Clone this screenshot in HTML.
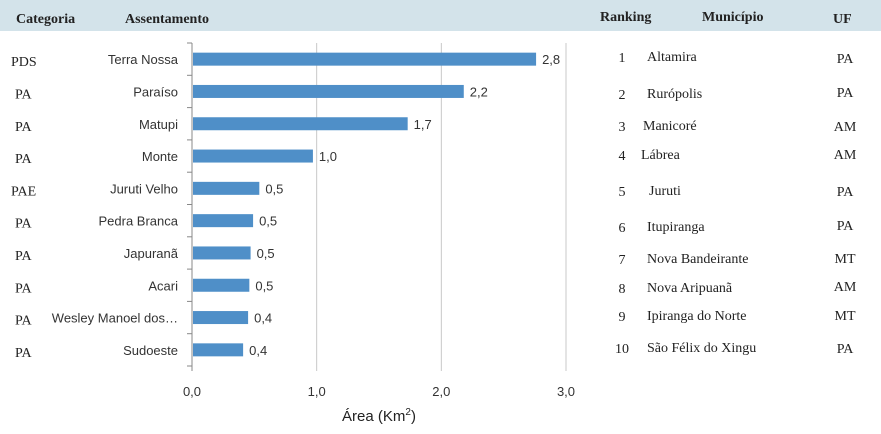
<!DOCTYPE html>
<html><head><meta charset="utf-8"><style>
body{margin:0;width:881px;height:434px;background:#fff;overflow:hidden;position:relative;font-family:"Liberation Sans",sans-serif}
.hdr{position:absolute;top:0;left:0;width:881px;height:31px;background:#d3e3ea}
.s{font-family:"Liberation Serif",serif;position:absolute;color:#222}
.b{font-weight:bold;font-size:14px}
</style></head><body>
<div class="hdr"></div>
<div class="s b" style="left:16px;top:12px">Categoria</div>
<div class="s b" style="left:125px;top:12px">Assentamento</div>
<div class="s b" style="left:600px;top:10px">Ranking</div>
<div class="s b" style="left:702px;top:10px">Município</div>
<div class="s b" style="left:833px;top:12px">UF</div>
<svg id="chart" width="881" height="434" style="position:absolute;left:0;top:0"></svg>
<script>
const categories=["Terra Nossa","Paraíso","Matupi","Monte","Juruti Velho","Pedra Branca","Japuranã","Acari","Wesley Manoel dos…","Sudoeste"];
const cats=["PDS","PA","PA","PA","PAE","PA","PA","PA","PA","PA"];
const values=[2.76,2.18,1.73,0.97,0.54,0.49,0.47,0.46,0.45,0.41];
const valueLabels=["2,8","2,2","1,7","1,0","0,5","0,5","0,5","0,5","0,4","0,4"];
const ticks=[0,1,2,3];
const tickLabels=["0,0","1,0","2,0","3,0"];
const rankNames=["Altamira","Rurópolis","Manicoré","Lábrea","Juruti","Itupiranga","Nova Bandeirante","Nova Aripuanã","Ipiranga do Norte","São Félix do Xingu"];
const rankUF=["PA","PA","AM","AM","PA","PA","MT","AM","MT","PA"];
const rowY=[57,94,126,155,191,227,259,288,316,348];
const nameX=[647,647,643,641,649,647,647,647,647,647];
const ufY=[58,92,126,154,191,225,258,286,315,348];

const NS="http://www.w3.org/2000/svg",svg=document.getElementById("chart");
const x0=192,x1=566,yTop=43,yBot=366,nCat=categories.length,bandH=(yBot-yTop)/nCat;
const sx=v=>x0+(x1-x0)*v/3, sy=i=>yTop+bandH*(i+0.5);
function mk(t,a,txt){const e=document.createElementNS(NS,t);for(const k in a)e.setAttribute(k,a[k]);if(txt!=null)e.textContent=txt;svg.appendChild(e);return e;}
ticks.forEach((t,i)=>{
 const g=mk("line",{x1:sx(t),x2:sx(t),y1:yTop,y2:yBot+5,stroke:i?"#c8c8c8":"#888","stroke-width":1});
 
 
 const l=mk("text",{x:sx(t),y:396,"text-anchor":"middle","font-size":"13",fill:"#333","font-family":"Liberation Sans"},tickLabels[i]);
 
 
});
for(let i=0;i<=nCat;i++){const tk=mk("line",{x1:x0-5,x2:x0,y1:yTop+bandH*i,y2:yTop+bandH*i,stroke:"#888"});
 
 }
categories.forEach((c,i)=>{
 const y=sy(i);
 const r=mk("rect",{x:x0+1,y:y-6.5,width:sx(values[i])-x0-1,height:13,fill:"#4f8fc8"});
 
 
 const v=mk("text",{x:sx(values[i])+6,y:y+5,"font-size":"13",fill:"#333"},valueLabels[i]);
 
 
 const l=mk("text",{x:x0-14,y:y+5,"text-anchor":"end","font-size":"13",fill:"#333"},c);
 
 
 const k=mk("text",{x:cats[i]=="PDS"||cats[i]=="PAE"?11:15,y:y+7,"font-size":"14",fill:"#222","font-family":"Liberation Serif"},cats[i]);
 
 
});
const at=mk("text",{x:sx(1.5),y:421,"text-anchor":"middle","font-size":"15",fill:"#222"},"Área (Km");


const sup=document.createElementNS(NS,"tspan");sup.setAttribute("font-size","10");sup.setAttribute("dy","-6");sup.textContent="2";at.appendChild(sup);
const cl=document.createElementNS(NS,"tspan");cl.setAttribute("dy","6");cl.textContent=")";at.appendChild(cl);
rankNames.forEach((nm,i)=>{
 const a=mk("text",{x:622,y:rowY[i]+5,"text-anchor":"middle","font-size":"14",fill:"#222","font-family":"Liberation Serif"},String(i+1));
 
 
 const b=mk("text",{x:nameX[i],y:rowY[i]+4,"font-size":"14",fill:"#222","font-family":"Liberation Serif"},nm);
 
 
 const c=mk("text",{x:845,y:ufY[i]+5,"text-anchor":"middle","font-size":"14",fill:"#222","font-family":"Liberation Serif"},rankUF[i]);
 
 
});
</script>
</body></html>
